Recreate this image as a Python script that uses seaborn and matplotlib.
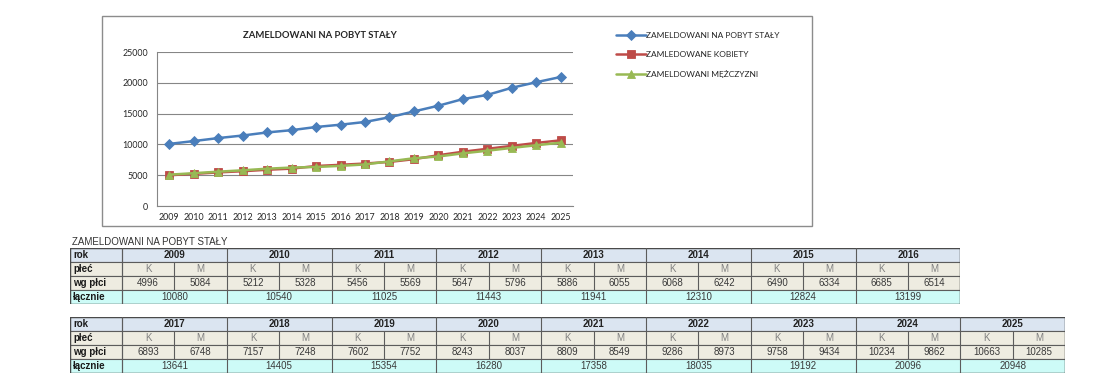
import numpy as np
import pandas as pd
import seaborn as sns
import matplotlib.pyplot as plt
from matplotlib.patches import Rectangle

years = list(range(2009, 2026))
kobiety = [4996, 5212, 5456, 5647, 5886, 6068, 6490, 6685, 6893,
           7157, 7602, 8243, 8809, 9286, 9758, 10234, 10663]
mezczyzni = [5084, 5328, 5569, 5796, 6055, 6242, 6334, 6514, 6748,
             7248, 7752, 8037, 8549, 8973, 9434, 9862, 10285]
lacznie = [10080, 10540, 11025, 11443, 11941, 12310, 12824, 13199, 13641,
           14405, 15354, 16280, 17358, 18035, 19192, 20096, 20948]

series_names = ["ZAMELDOWANI NA POBYT STAŁY", "ZAMLEDOWANE KOBIETY", "ZAMELDOWANI MĘŻCZYZNI"]
chart_title = "ZAMELDOWANI NA POBYT STAŁY"
table_title = "ZAMELDOWANI NA POBYT STAŁY"
row_labels = ["rok", "płeć", "wg płci", "łącznie"]

df = pd.DataFrame({
    "rok": years * 3,
    "liczba": lacznie + kobiety + mezczyzni,
    "seria": [series_names[0]] * 17 + [series_names[1]] * 17 + [series_names[2]] * 17,
})

sns.set_style("white")
plt.rcParams["font.family"] = ["Lato", "DejaVu Sans"]
TABLE_FONT = ["Liberation Sans", "DejaVu Sans"]

W, H = 1098, 381
fig = plt.figure(figsize=(W / 100, H / 100), dpi=100)

# chart frame
fig.patches.append(Rectangle((102 / W, 1 - 226 / H), (812 - 102) / W, (226 - 16) / H,
                             transform=fig.transFigure, fill=False,
                             edgecolor="#8c8c8c", linewidth=1.0))

ax = fig.add_axes([157 / W, 1 - 206 / H, (573 - 157) / W, (206 - 52) / H])
palette = {series_names[0]: "#4a7ebb", series_names[1]: "#be4b48", series_names[2]: "#98b954"}
markers = {series_names[0]: "D", series_names[1]: "s", series_names[2]: "^"}
sns.lineplot(data=df, x="rok", y="liczba", hue="seria", style="seria",
             palette=palette, markers=markers, dashes=False, linewidth=1.8,
             markersize=5.5, markeredgewidth=0.6, ax=ax, legend=False)
for ln in ax.lines:
    ln.set_markeredgecolor(ln.get_color())

ax.set_xlim(years[0] - 0.5, years[-1] + 0.5)
ax.set_ylim(0, 25000)
ax.set_yticks(range(0, 25001, 5000))
ax.set_xticks(years)
ax.set_xticklabels([str(y) for y in years])
ax.set_xticks(np.arange(years[0] - 0.5, years[-1] + 1, 1), minor=True)
ax.tick_params(axis="x", which="major", length=0, labelsize=6.4, pad=5)
ax.tick_params(axis="x", which="minor", length=4, color="#868686", direction="out")
ax.tick_params(axis="y", length=3, color="#868686", labelsize=6.4, direction="out")
ax.grid(axis="y", color="#868686", linewidth=0.8)
ax.set_axisbelow(True)
ax.set_xlabel("")
ax.set_ylabel("")
for s in ["top", "right"]:
    ax.spines[s].set_visible(False)
for s in ["left", "bottom"]:
    ax.spines[s].set_color("#868686")
    ax.spines[s].set_linewidth(0.8)
ax.set_facecolor("none")

fig.text(320 / W, 1 - 35 / H, chart_title, ha="center", va="center",
         fontsize=6.8, fontweight="bold")

fig.legend(handles=ax.lines[:3], labels=series_names, loc="upper left",
           bbox_to_anchor=(608 / W, 1 - 24 / H), frameon=False, fontsize=6,
           handlelength=3.6, handletextpad=0.1, labelspacing=1.45, numpoints=1)

# tables
LABEL_W = 52
YEAR_W = 104.8
row_colors = ["#dbe5f1", "#eeece1", "#eeece1", "#cdfbf7"]
line_col = "#5c5c5c"


def draw_table(top, yrs, k, m, tot):
    n = len(yrs)
    width = LABEL_W + n * YEAR_W
    tax = fig.add_axes([70 / W, 1 - (top + 56) / H, width / W, 56 / H])
    tax.set_xlim(0, width)
    tax.set_ylim(4, 0)
    tax.axis("off")
    txt = dict(fontsize=7, family=TABLE_FONT, va="center")
    for r in range(4):
        tax.add_patch(Rectangle((0, r), width, 1, facecolor=row_colors[r],
                                edgecolor=line_col, linewidth=0.8))
        tax.text(3, r + 0.52, row_labels[r], ha="left",
                 fontweight="bold", color="#1a1a1a", **txt)
    tax.plot([LABEL_W, LABEL_W], [0, 4], color=line_col, lw=0.8)
    for i in range(n):
        x0 = LABEL_W + i * YEAR_W
        tax.plot([x0, x0], [0, 4], color=line_col, lw=0.8)
        tax.plot([x0 + YEAR_W / 2] * 2, [1, 3], color=line_col, lw=0.8)
        tax.text(x0 + YEAR_W / 2, 0.52, str(yrs[i]), ha="center",
                 fontweight="bold", color="#222222", **txt)
        tax.text(x0 + YEAR_W / 4, 1.52, "K", ha="center", color="#808080", **txt)
        tax.text(x0 + 3 * YEAR_W / 4, 1.52, "M", ha="center", color="#808080", **txt)
        tax.text(x0 + YEAR_W / 4, 2.52, str(k[i]), ha="center", color="#3a3a3a", **txt)
        tax.text(x0 + 3 * YEAR_W / 4, 2.52, str(m[i]), ha="center", color="#3a3a3a", **txt)
        tax.text(x0 + YEAR_W / 2, 3.52, str(tot[i]), ha="center", color="#3a3a3a", **txt)
    tax.add_patch(Rectangle((0, 0), width, 4, fill=False, edgecolor="#4a4a4a", linewidth=1.0))


fig.text(72 / W, 1 - 242 / H, table_title, ha="left", va="center",
         fontsize=7, color="#333333", family=TABLE_FONT)
draw_table(248, years[:8], kobiety[:8], mezczyzni[:8], lacznie[:8])
draw_table(317, years[8:], kobiety[8:], mezczyzni[8:], lacznie[8:])

fig.savefig("out.png", dpi=100)
